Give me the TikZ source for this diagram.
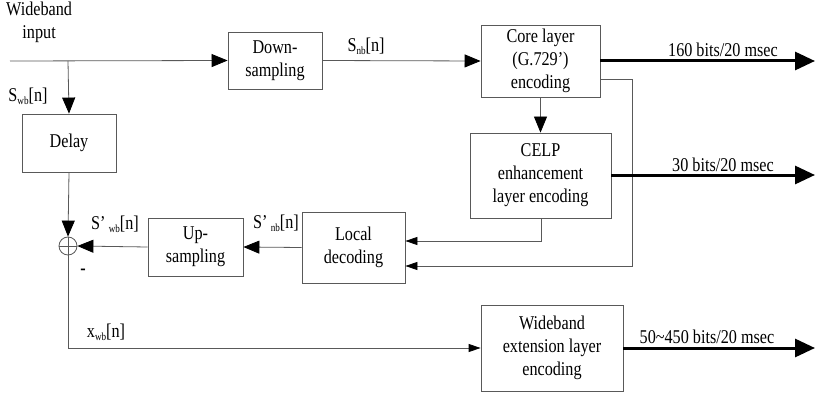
\documentclass[tikz,border=0pt]{standalone}
\usepackage{fontspec}
\setmainfont[FakeStretch=0.83]{Liberation Serif}
\usepackage{tikz}
\usetikzlibrary{arrows.meta}
\definecolor{linegray}{gray}{0.35}
\newcommand{\lowtxt}[1]{\raisebox{-0.35ex}{\fontsize{11}{11}\selectfont #1}}

\begin{document}
\begin{tikzpicture}[x=1pt, y=-1pt]
			\tikzstyle{every node}=[font=\fontsize{19.5}{23}\selectfont, inner sep=0pt, align=center];
			\tikzstyle{block}=[draw=linegray, line width=0.8pt];
			\tikzstyle{wire}=[linegray, line width=0.8pt];
			\tikzstyle{tip}=[-{Triangle[length=16pt, width=13pt, color=black]}];
			\tikzstyle{smalltip}=[-{Triangle[length=12pt, width=8pt, color=black]}];
			\tikzstyle{rate}=[black, line width=3pt, -{Triangle[length=20pt, width=18pt]}];
			
			\useasboundingbox (0, 0) rectangle (816, 393);
			
			%Blocks
			\node[block, minimum width=94pt, minimum height=57pt] (down) at (275, 60.5) {Down-\\sampling};
			\node[block, minimum width=119pt, minimum height=72pt] (core) at (540.5, 61) {Core layer\\(G.729’)\\encoding};
			\node[block, minimum width=141pt, minimum height=85pt] (celp) at (540.5, 175.5) {CELP\\enhancement\\layer encoding};
			\node[block, minimum width=94pt, minimum height=58pt] (delay) at (69, 143) {Delay};
			\node[block, minimum width=103pt, minimum height=71pt] (local) at (353.5, 247.5) {Local\\decoding};
			\node[block, minimum width=95pt, minimum height=58pt] (up) at (195.5, 247) {Up-\\sampling};
			\node[block, minimum width=142pt, minimum height=86pt] (wext) at (552, 348) {Wideband\\extension layer\\encoding};
			\node[block, circle, minimum size=18pt] (sum) at (68, 246) {};
			\draw[wire] (sum.north) -- (sum.south);
			\draw[wire] (sum.west) -- (sum.east);
			
			%Input and narrowband path
			\coordinate (in) at (10, 61);
			\coordinate (split) at (68, 61);
			\draw[wire, tip] (in) -- (down.west);
			\draw[wire, tip] (split) -- (delay.north);
			\draw[wire, tip] (down.east) -- (core.west);
			\draw[wire, tip] (core.south) -- (celp.north);
			\node[anchor=north west] (inlbl) at (6, 2) {Wideband\\input};
			\node (swb) at (28, 96) {S\lowtxt{wb}[n]};
			\node (snb) at (366, 46) {S\lowtxt{nb}[n]};
			
			%Local decoding loop
			\coordinate (celpdn) at (541, 241);
			\coordinate (corert) at (632, 79);
			\coordinate (corebk) at (632, 266);
			\draw[wire, smalltip] (celp.south -| celpdn) -- (celpdn) -- (local.east |- celpdn);
			\draw[wire, smalltip] (core.east |- corert) -- (corert) -- (corebk) -- (local.east |- corebk);
			\draw[wire, tip] (local.west) -- (up.east);
			\draw[wire, tip] (up.west) -- (sum.east);
			\draw[wire, tip] (delay.south) -- (sum.north);
			\node (snbp) at (276, 223) {S’\,\lowtxt{nb}[n]};
			\node (swbp) at (115, 224) {S’\,\lowtxt{wb}[n]};
			\node (minus) at (83, 272) {\textbf{-}};
			
			%Residual path
			\coordinate (bend) at (68, 348);
			\draw[wire, smalltip] (sum.south) -- (bend) -- (wext.west);
			\node (xwb) at (106, 332) {x\lowtxt{wb}[n]};
			
			%Bit streams
			\coordinate (out1) at (815, 61);
			\coordinate (out2) at (815, 175);
			\coordinate (out3) at (815, 348);
			\draw[rate] (core.east) -- (out1);
			\draw[rate] (celp.east |- out2) -- (out2);
			\draw[rate] (wext.east) -- (out3);
			\node (r1) at (723, 50) {160 bits/20 msec};
			\node (r2) at (723, 165) {30 bits/20 msec};
			\node (r3) at (707, 337) {50\textasciitilde450 bits/20 msec};
\end{tikzpicture}
\end{document}
